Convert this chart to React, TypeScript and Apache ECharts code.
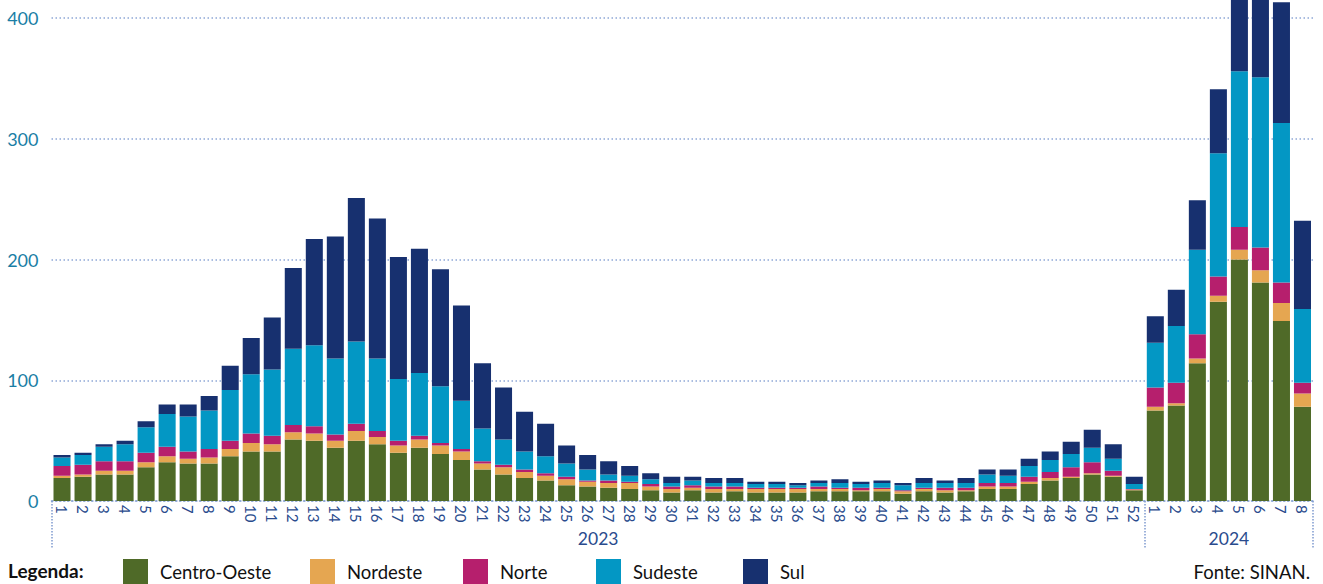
import React, { useEffect, useRef } from "react";
import * as echarts from "echarts";

const weeks2023 = ["1","2","3","4","5","6","7","8","9","10","11","12","13","14","15","16","17","18","19","20","21","22","23","24","25","26","27","28","29","30","31","32","33","34","35","36","37","38","39","40","41","42","43","44","45","46","47","48","49","50","51","52"];
const weeks2024 = ["1","2","3","4","5","6","7","8"];
const years = ["2023", "2024"];
const yTicks = [0, 100, 200, 300, 400];

const seriesNames = ["Centro-Oeste", "Nordeste", "Norte", "Sudeste", "Sul"];
const seriesColors = ["#4F6A28", "#E5A651", "#B61F6D", "#0397C4", "#17306F"];

const centroOeste = [19,20,22,22,28,32,31,31,37,41,41,51,50,44,50,47,40,44,39,34,26,22,19,17,13,12,11,10,9,7,9,7,8,7,7,7,8,8,8,8,6,8,7,8,10,10,14,17,19,22,20,9, 75,79,114,165,200,181,149,78];
const nordeste = [2,2,3,3,4,5,4,5,6,7,6,6,6,6,8,6,6,7,7,7,5,6,5,4,5,4,4,5,3,3,2,3,2,3,3,3,2,2,1,2,2,2,2,1,2,2,2,2,1,1,1,0.5, 3,2,4,5,8,10,15,11];
const norte = [8,8,8,8,8,8,6,7,7,8,7,6,6,5,6,5,4,3,2,2,2,2,2,2,2,1,2,1,2,2,2,2,2,1,1,1,2,1,2,1,1,1,2,2,3,3,4,5,8,9,4,0.5, 16,17,20,16,19,19,17,9];
const sudeste = [7,8,12,14,21,27,29,32,42,49,55,63,67,63,68,60,51,52,47,40,27,21,15,14,11,9,5,5,4,3,4,3,3,3,3,2,3,4,3,4,4,4,4,4,7,6,9,10,11,12,10,4, 37,47,70,102,129,141,132,61];
const sul = [2,2,2,3,5,8,10,12,20,30,43,67,88,101,119,116,101,103,97,79,54,43,33,27,15,12,11,8,5,5,3,4,4,2,2,2,2,3,2,2,2,4,2,4,4,5,6,7,10,15,12,6, 22,30,41,53,90,85,100,73];

const seriesValues = [centroOeste, nordeste, norte, sudeste, sul];

const FONT = "Lato, 'Open Sans', sans-serif";

export default function App() {
  const ref = useRef<HTMLDivElement>(null);

  useEffect(() => {
    if (!ref.current) return;
    const chart = echarts.init(ref.current, null, { renderer: "svg" });

    const categories = [
      ...weeks2023.map((w) => years[0] + "|" + w),
      ...weeks2024.map((w) => years[1] + "|" + w),
    ];
    const groupSizes = [weeks2023.length, weeks2024.length];
    const total = categories.length;
    const boundaries = [0, groupSizes[0], total];
    const centers = [groupSizes[0] / 2, groupSizes[0] + groupSizes[1] / 2];

    const legendLefts = [123, 310, 463, 596, 743];
    const dotted = { color: "#8FA8D6", type: [1.5, 2.5], width: 1.5 };

    const option: any = {
      animation: false,
      backgroundColor: "#ffffff",
      textStyle: { fontFamily: FONT },
      grid: { left: 51.5, right: 10, top: 18, bottom: 83, containLabel: false },
      legend: seriesNames.map((name, i) => ({
        data: [name],
        left: legendLefts[i],
        top: 559,
        padding: 0,
        itemWidth: 25,
        itemHeight: 25,
        icon: "rect",
        selectedMode: false,
        textStyle: { fontSize: 18.5, color: "#111111", fontFamily: FONT, padding: [0, 0, 0, 7] },
      })),
      xAxis: [
        {
          type: "category",
          data: categories,
          position: "bottom",
          axisLine: { show: true, lineStyle: dotted },
          axisTick: { show: false },
          axisLabel: {
            interval: 0,
            rotate: -90,
            margin: 4,
            fontSize: 15,
            color: "#2A4B8D",
            fontFamily: FONT,
            formatter: (v: string) => v.split("|")[1],
          },
          splitLine: { show: false },
        },
        {
          type: "value",
          position: "bottom",
          min: 0,
          max: total,
          axisLine: { show: false },
          splitLine: { show: false },
          axisTick: {
            show: true,
            customValues: boundaries,
            length: 48,
            lineStyle: { color: "#7F9BD0", type: [1.5, 1.5], width: 1.5 },
          },
          axisLabel: {
            show: true,
            customValues: centers,
            margin: 28,
            fontSize: 17.5,
            color: "#2A4B8D",
            fontFamily: FONT,
            formatter: (v: number) => (v === centers[0] ? years[0] : v === centers[1] ? years[1] : ""),
          },
        },
      ],
      yAxis: {
        type: "value",
        min: yTicks[0],
        max: yTicks[yTicks.length - 1],
        interval: yTicks[1] - yTicks[0],
        axisLine: { show: false },
        axisTick: { show: false },
        axisLabel: { fontSize: 18, color: "#1A7EA5", margin: 13, fontFamily: FONT },
        splitLine: { show: true, lineStyle: dotted },
      },
      series: seriesNames.map((name, i) => ({
        name,
        type: "bar",
        stack: "total",
        clip: false,
        barCategoryGap: "19%",
        itemStyle: { color: seriesColors[i] },
        emphasis: { disabled: true },
        data: seriesValues[i],
      })),
      graphic: [
        {
          type: "text",
          left: 8,
          top: 561,
          style: { text: "Legenda:", fontSize: 19, fontWeight: "bold", fill: "#111111", fontFamily: FONT },
        },
        {
          type: "text",
          right: 13,
          top: 562,
          style: { text: "Fonte: SINAN.", fontSize: 18.5, fill: "#111111", fontFamily: FONT },
        },
      ],
    };

    chart.setOption(option);
    return () => {
      chart.dispose();
    };
  }, []);

  return (
    <div
      ref={ref}
      style={{ position: "fixed", left: 0, top: 0, width: 1323, height: 584 }}
    />
  );
}
